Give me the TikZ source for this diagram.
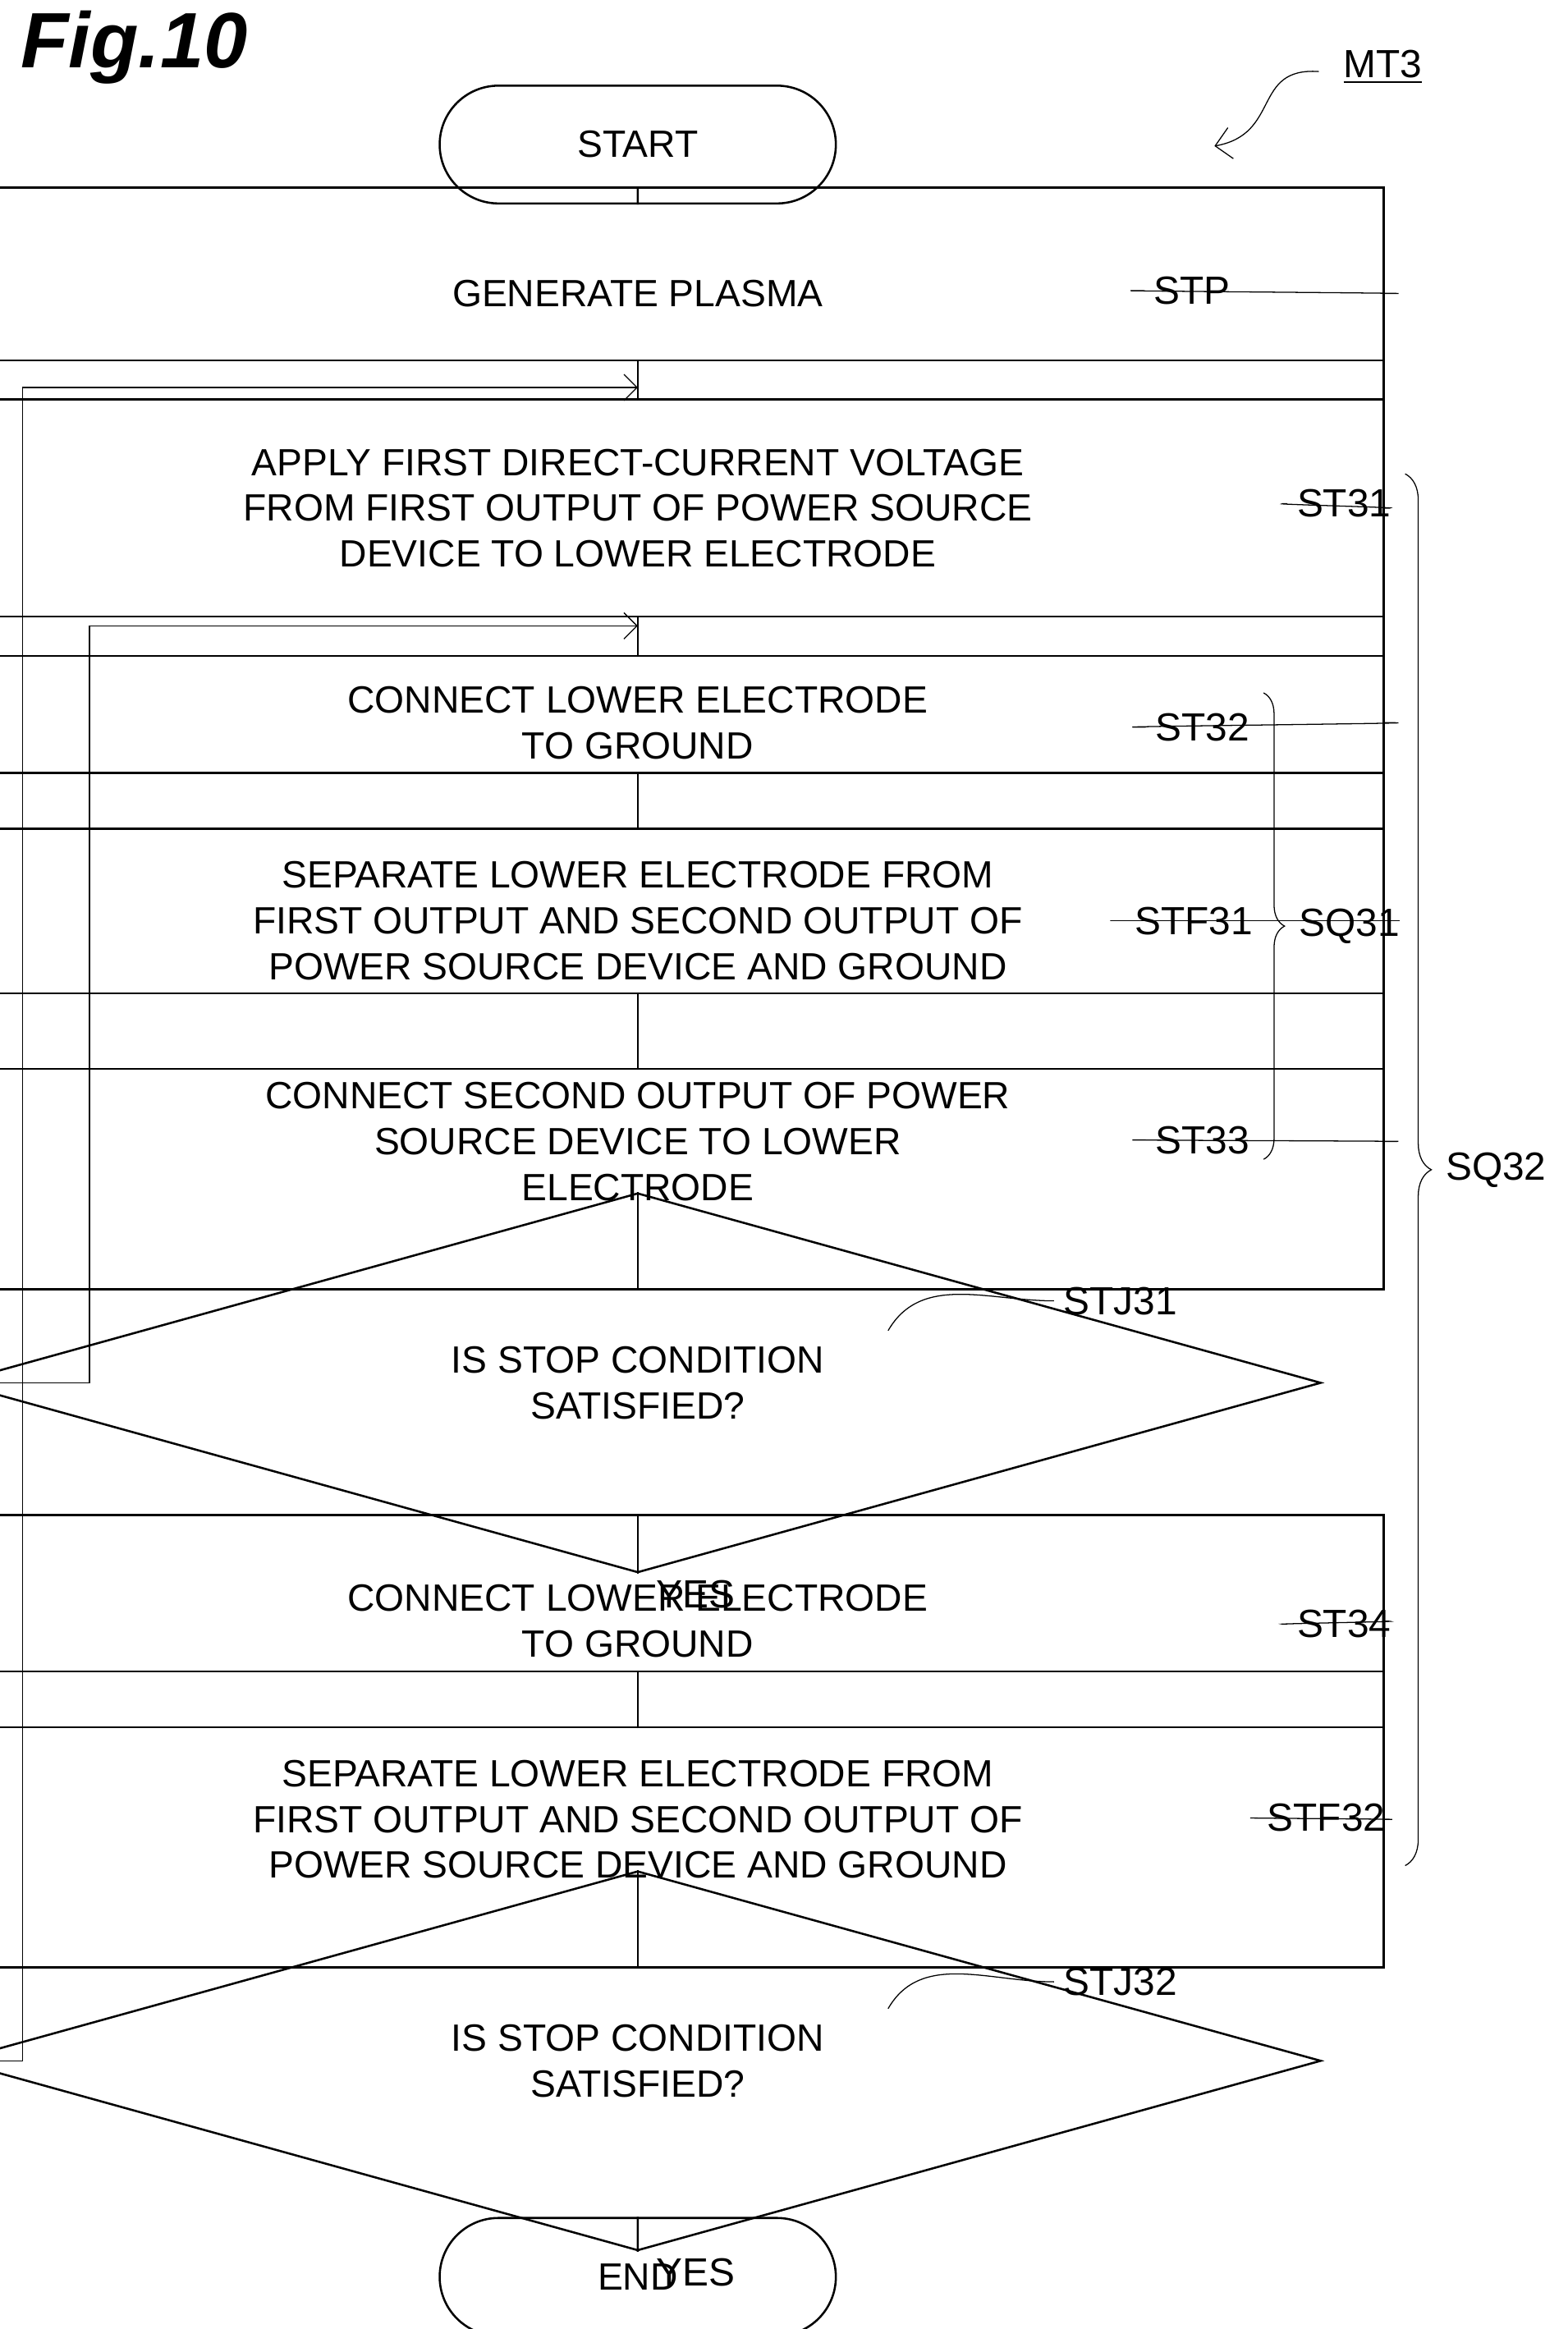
\documentclass[tikz,border=0pt]{standalone}
\usepackage{fontspec}
\setmainfont{Liberation Sans}
\usetikzlibrary{shapes.geometric,shapes.misc,positioning,decorations.pathreplacing,arrows.meta}
\tikzset{procbox/.style={draw,thick,minimum width=570,minimum height=81,align=center,font=\fontsize{14.5}{17.5}\selectfont}}
\tikzset{tallbox/.style={procbox,minimum height=113}}
\tikzset{termbox/.style={draw,thick,rounded rectangle,minimum width=158,minimum height=45,font=\fontsize{14.5}{17}\selectfont}}
\tikzset{testbox/.style={draw,thick,diamond,aspect=3.6,minimum width=522,minimum height=145,inner sep=0pt,align=center,font=\fontsize{14.5}{17.5}\selectfont}}
\tikzset{lbl/.style={font=\fontsize{15}{17}\selectfont}}
\tikzset{lead/.style={thin,out=0,in=180}}
\tikzset{backline/.style={thin,-{Straight Barb[length=5pt]}}}
\begin{document}
\begin{tikzpicture}[x=0.02cm,y=-0.02cm,thick]
\useasboundingbox (0,0) rectangle (1052,1563);
\node[font=\fontsize{30}{30}\bfseries\itshape\selectfont] (fig) at (90,32) {Fig.10};
\node[lbl] (mt) at (928,45) {\underline{MT3}};
\draw[thin,-{Straight Barb[length=6pt]}] (885,48) .. controls (840,45) and (860,90) .. (815,98);

\node[termbox] (start) at (428,97) {START};
\node[procbox] (stp) at (428,197) {GENERATE PLASMA};
\node[tallbox] (st31) at (428,341) {APPLY FIRST DIRECT-CURRENT VOLTAGE\\FROM FIRST OUTPUT OF POWER SOURCE\\DEVICE TO LOWER ELECTRODE};
\node[procbox] (st32) at (428,485) {CONNECT LOWER ELECTRODE\\TO GROUND};
\node[tallbox] (stf31) at (428,618) {SEPARATE LOWER ELECTRODE FROM\\FIRST OUTPUT AND SECOND OUTPUT OF\\POWER SOURCE DEVICE AND GROUND};
\node[tallbox] (st33) at (428,766) {CONNECT SECOND OUTPUT OF POWER\\SOURCE DEVICE TO LOWER\\ELECTRODE};
\node[testbox] (j31) at (428,928) {IS STOP CONDITION\\SATISFIED?};
\node[procbox] (st34) at (428,1088) {CONNECT LOWER ELECTRODE\\TO GROUND};
\node[tallbox] (stf32) at (428,1221) {SEPARATE LOWER ELECTRODE FROM\\FIRST OUTPUT AND SECOND OUTPUT OF\\POWER SOURCE DEVICE AND GROUND};
\node[testbox] (j32) at (428,1383) {IS STOP CONDITION\\SATISFIED?};
\node[termbox] (end) at (428,1528) {END};

% main flow
\draw (start) -- (stp);
\draw (stp) -- (st31);
\draw (st31) -- (st32);
\draw (st32) -- (stf31);
\draw (stf31) -- (st33);
\draw (st33) -- (j31);
\draw (j31) -- (st34);
\draw (st34) -- (stf32);
\draw (stf32) -- (j32);
\draw (j32) -- (end);

% feedback
\coordinate (in31) at (428,420);
\coordinate (in32) at (428,260);
\draw[backline] (j31.west) -- (60,928) -- (60,420) -- (in31);
\draw[backline] (j32.west) -- (15,1383) -- (15,260) -- (in32);
\node[lbl,above left=0 and 10 of j31.west] (no1) {NO};
\node[lbl,above left=0 and 10 of j32.west] (no2) {NO};
\node[lbl,below right=2 and 6 of j31.south] (yes1) {YES};
\node[lbl,below right=2 and 6 of j32.south] (yes2) {YES};

% step labels
\node[lbl] (lstp) at (800,195) {STP};
\node[lbl] (l31) at (902,338) {ST31};
\node[lbl] (l32) at (807,488) {ST32};
\node[lbl] (lf31) at (801,618) {STF31};
\node[lbl] (l33) at (807,765) {ST33};
\node[lbl] (lj31) at (752,873) {STJ31};
\node[lbl] (l34) at (902,1090) {ST34};
\node[lbl] (lf32) at (890,1220) {STF32};
\node[lbl] (lj32) at (752,1330) {STJ32};
\draw[lead] (stp.east) to (lstp.west);
\draw[lead] (st31.east) to (l31.west);
\draw[lead] (st32.east) to (l32.west);
\draw[lead] (stf31.east) to (lf31.west);
\draw[lead] (st33.east) to (l33.west);
\draw[lead] (st34.east) to (l34.west);
\draw[lead] (stf32.east) to (lf32.west);
\coordinate (e31) at (596,893);
\coordinate (e32) at (596,1348);
\draw[thin,out=60,in=180] (e31) to (lj31.west);
\draw[thin,out=60,in=180] (e32) to (lj32.west);

% groups
\draw[thin,decorate,decoration={brace,amplitude=8pt}] (848,465) -- (848,778) node[lbl,midway,right=10pt] (sq31) {SQ31};
\draw[thin,decorate,decoration={brace,amplitude=10pt}] (943,318) -- (943,1252) node[lbl,midway,right=12pt] (sq32) {SQ32};
\end{tikzpicture}
\end{document}
